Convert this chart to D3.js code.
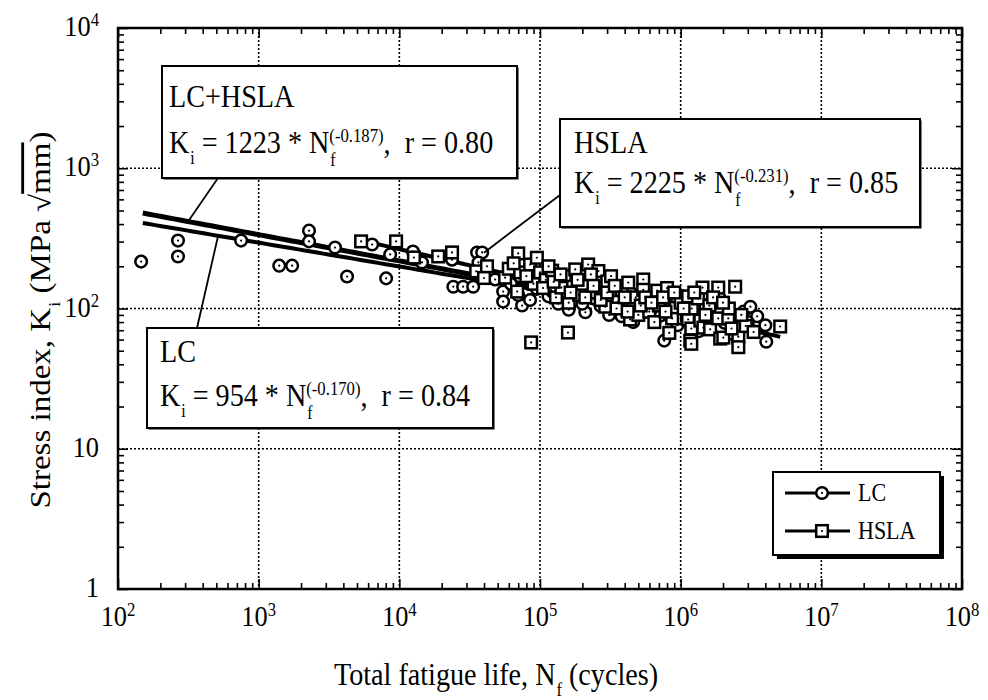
<!DOCTYPE html>
<html>
<head>
<meta charset="utf-8">
<script src="https://cdn.jsdelivr.net/npm/d3@7"></script>
<style>
  body { margin: 0; background: #fff; }
  svg text { fill: #000; white-space: pre; }
</style>
</head>
<body>
<div id="chart"></div>
<script>
// LC steel, [cycles, stress index]
var lcData = [
  [146,216],[267,305],[267,235],[750,305],[1400,202],[1730,202],[2280,359],[2280,301],
  [3490,272],[4250,169],[6410,286],[8060,164],[8610,243],[12500,255],[14500,213],[23700,223],
  [24200,143],[28400,143],[33500,143],[35700,251],[38800,251],[36500,213],[48000,161],[54700,132],
  [54700,112],[74600,105],[62000,150],[95000,138],[115000,122],[135000,108],[160000,98],[185000,128],
  [210000,94],[240000,118],[270000,104],[310000,90],[360000,114],[410000,99],[460000,80],[520000,124],
  [620000,108],[720000,89],[764000,59],[830000,100],[950000,76],[1150000,95],[1350000,69],[1650000,86],
  [1880000,120],[2050000,79],[2500000,74],[2800000,95],[3130000,103],[3500000,88],[4000000,76],[4060000,58],
  [70000,125],[85000,115],[100000,150],[120000,135],[140000,125],[170000,112],[200000,108],[260000,130],
  [300000,112],[380000,88],[440000,130],[560000,95],[680000,120],[900000,110],[1000000,85],[1250000,82],
  [1500000,105],[2200000,95],[2300000,66],[3000000,80]
];
// HSLA steel
var hslaData = [
  [5350,301],[9480,301],[12700,231],[18900,235],[23700,251],[35200,184],[42000,200],[40000,165],
  [56500,166],[60000,192],[68800,132],[70000,247],[72300,181],[85100,206],[86500,57.3],[90000,150],
  [100000,181],[110000,160],[122000,186],[130000,120],[142000,141],[150000,170],[158000,67.4],[160000,110],
  [172000,143],[178000,190],[190000,125],[200000,150],[220000,206],[250000,130],[251000,161],[260000,185],
  [280000,140],[291000,103],[301000,156],[320000,170],[330000,125],[360000,112],[380000,135],[424000,153],
  [437000,83.5],[460000,110],[480000,120],[500000,90],[542000,161],[542000,136],[598000,95],[650000,80],
  [682000,134],[700000,105],[800000,140],[843000,91],[870000,85],[920000,102],[946000,122],[1000000,110],
  [1110000,89],[1130000,122],[1130000,83.5],[1170000,59],[1190000,72],[1200000,100],[1330000,118],[1380000,82],
  [1430000,141],[1450000,73],[1600000,105],[1620000,71],[1850000,141],[1850000,85],[1910000,61],[2010000,62],
  [2180000,85],[2200000,100],[2440000,143],[2570000,63],[2570000,53],[2900000,75],[3300000,68],[5100000,74.4],
  [65000,210],[80000,170],[95000,230],[105000,140],[115000,200],[125000,155],[140000,175],[165000,130],
  [185000,160],[210000,120],[230000,175],[240000,145],[270000,115],[300000,130],[340000,145],[350000,100],
  [400000,120],[420000,95],[520000,105],[560000,120],[620000,110],[750000,120],[780000,95],[900000,130],
  [1050000,100],[1250000,130],[1500000,90],[1700000,120],[2000000,110],[2300000,72],[2700000,90],[830000,67],
  [1190000,56]
];
// power law fits K = a * N^b, drawn between nMin and nMax
var fits = [
  { name: "LC+HSLA", a: 1223, b: -0.187, r: "0.80", nMin: 150, nMax: 4000000, width: 5 },
  { name: "LC",      a: 954,  b: -0.170, r: "0.84", nMin: 150, nMax: 4000000, width: 4 },
  { name: "HSLA",    a: 2225, b: -0.231, r: "0.85", nMin: 5350, nMax: 5100000, width: 4 }
];
var xTickExp = [2, 3, 4, 5, 6, 7, 8];
var yTickLabels = ["1", "10", "10^2", "10^3", "10^4"];

var W = 988, H = 700;
var SX = 0.88;   // the scan is horizontally squeezed
var FONT = "'Liberation Serif', Tinos, 'Times New Roman', Times, 'Nimbus Roman', 'DejaVu Serif', 'Noto Serif', serif";

var svg = d3.select("#chart").append("svg").attr("width", W).attr("height", H);

var x = d3.scaleLog().domain([1e2, 1e8]).range([118, 962]);
var y = d3.scaleLog().domain([1, 1e4]).range([589, 28]);

function txt(px, py, anchor, size) {
  return svg.append("g")
    .attr("transform", "translate(" + px + "," + py + ") scale(" + SX + ",1)")
    .append("text")
    .attr("font-family", FONT)
    .attr("text-anchor", anchor)
    .style("font-size", size + "px");
}

// minor / major tick values
var majorX = xTickExp.map(function(e) { return Math.pow(10, e); });
var minorX = [], minorY = [];
for (var e = 2; e < 8; e++) for (var m = 2; m < 10; m++) minorX.push(m * Math.pow(10, e));
for (var e = 0; e < 4; e++) for (var m = 2; m < 10; m++) minorY.push(m * Math.pow(10, e));
var majorY = [1, 10, 100, 1000, 10000];

// dotted grid
var grid = svg.append("g").attr("stroke", "#000").attr("stroke-width", 1.6).attr("stroke-dasharray", "2,2");
grid.selectAll(".gx").data([1e3, 1e4, 1e5, 1e6, 1e7]).enter().append("line")
  .attr("x1", function(d) { return x(d); }).attr("x2", function(d) { return x(d); })
  .attr("y1", y(1e4)).attr("y2", y(1));
grid.selectAll(".gy").data([10, 100, 1000]).enter().append("line")
  .attr("y1", function(d) { return y(d); }).attr("y2", function(d) { return y(d); })
  .attr("x1", x(1e2)).attr("x2", x(1e8));

// fit lines
fits.forEach(function(f) {
  var pts = d3.range(0, 101).map(function(i) {
    var n = Math.exp(Math.log(f.nMin) + (Math.log(f.nMax) - Math.log(f.nMin)) * i / 100);
    return [n, f.a * Math.pow(n, f.b)];
  });
  svg.append("path").datum(pts)
    .attr("d", d3.line().x(function(d) { return x(d[0]); }).y(function(d) { return y(d[1]); }))
    .attr("fill", "none").attr("stroke", "#000").attr("stroke-width", f.width);
});

function fitAt(name, n) {
  var f = fits.filter(function(d) { return d.name === name; })[0];
  return [n, f.a * Math.pow(n, f.b)];
}

// markers
function circleMark(g) {
  g.append("circle").attr("r", 5.8).attr("fill", "#fff").attr("stroke", "#000").attr("stroke-width", 2.5);
  g.append("circle").attr("r", 1.1).attr("fill", "#000");
}
function squareMark(g) {
  g.append("rect").attr("x", -5.8).attr("y", -5.8).attr("width", 11.6).attr("height", 11.6)
    .attr("fill", "#fff").attr("stroke", "#000").attr("stroke-width", 2.5);
  g.append("circle").attr("r", 1.1).attr("fill", "#000");
}

svg.append("g").selectAll("g").data(lcData).enter().append("g")
  .attr("transform", function(d) { return "translate(" + x(d[0]) + "," + y(d[1]) + ")"; })
  .each(function() { circleMark(d3.select(this)); });
svg.append("g").selectAll("g").data(hslaData).enter().append("g")
  .attr("transform", function(d) { return "translate(" + x(d[0]) + "," + y(d[1]) + ")"; })
  .each(function() { squareMark(d3.select(this)); });

// leader lines
var leaders = [
  { from: [218, 178], to: fitAt("LC+HSLA", 315) },
  { from: [197, 328], to: fitAt("LC", 515) },
  { from: [560, 195], to: [40000, 250] }
];
svg.append("g").selectAll("line").data(leaders).enter().append("line")
  .attr("x1", function(d) { return d.from[0]; }).attr("y1", function(d) { return d.from[1]; })
  .attr("x2", function(d) { return x(d.to[0]); }).attr("y2", function(d) { return y(d.to[1]); })
  .attr("stroke", "#000").attr("stroke-width", 1.8);

// annotation boxes
function box(bx, by, bw, bh, shadow) {
  if (shadow) svg.append("rect").attr("x", bx + shadow).attr("y", by + shadow)
    .attr("width", bw).attr("height", bh).attr("fill", "#000");
  svg.append("rect").attr("x", bx).attr("y", by).attr("width", bw).attr("height", bh)
    .attr("fill", "#fff").attr("stroke", "#000").attr("stroke-width", 2);
}
function formula(px, py, f) {
  var t = txt(px, py, "start", 32);
  t.append("tspan").text("K");
  t.append("tspan").attr("dx", 1).attr("dy", 11).style("font-size", "18px").text("i");
  t.append("tspan").attr("dy", -11).text(" = " + f.a + " * N");
  t.append("tspan").attr("dx", 1).attr("dy", 13).style("font-size", "18px").text("f");
  t.append("tspan").attr("dx", -7).attr("dy", -24).style("font-size", "19px").text("(" + f.b.toFixed(3) + ")");
  t.append("tspan").attr("dy", 11).text(",  r = " + f.r);
}

box(162, 66, 355, 112, 1.5);
txt(169, 107, "start", 32).text("LC+HSLA");
formula(169, 153, fits[0]);

box(560, 119, 360, 108, 1.5);
txt(574, 153, "start", 32).text("HSLA");
formula(574, 193, fits[2]);

box(147, 328, 346, 100, 1.5);
txt(160, 362, "start", 32).text("LC");
formula(160, 406, fits[1]);

// legend
box(773, 472, 167, 83, 4);
var legendRows = [
  { label: "LC", y: 493, mark: circleMark },
  { label: "HSLA", y: 531, mark: squareMark }
];
legendRows.forEach(function(r) {
  svg.append("line").attr("x1", 785).attr("x2", 850).attr("y1", r.y).attr("y2", r.y)
    .attr("stroke", "#000").attr("stroke-width", 3);
  r.mark(svg.append("g").attr("transform", "translate(822," + r.y + ")"));
  txt(858, r.y + 8, "start", 25).text(r.label);
});

// frame and ticks on all sides
var ax = svg.append("g");
function tickAxis(axisFn, scale, vals, size, tx, ty) {
  ax.append("g").attr("transform", "translate(" + tx + "," + ty + ")")
    .call(axisFn(scale).tickValues(vals).tickSize(size).tickFormat(""))
    .call(function(g) { g.select(".domain").remove(); g.selectAll("line").attr("stroke-width", 1.6); });
}
tickAxis(d3.axisBottom, x, majorX, -10, 0, y(1));
tickAxis(d3.axisBottom, x, minorX, -6, 0, y(1));
tickAxis(d3.axisTop, x, majorX, -10, 0, y(1e4));
tickAxis(d3.axisTop, x, minorX, -6, 0, y(1e4));
tickAxis(d3.axisLeft, y, majorY, -10, x(1e2), 0);
tickAxis(d3.axisLeft, y, minorY, -6, x(1e2), 0);
tickAxis(d3.axisRight, y, majorY, -10, x(1e8), 0);
tickAxis(d3.axisRight, y, minorY, -6, x(1e8), 0);
ax.append("rect").attr("x", x(1e2)).attr("y", y(1e4))
  .attr("width", x(1e8) - x(1e2)).attr("height", y(1) - y(1e4))
  .attr("fill", "none").attr("stroke", "#000").attr("stroke-width", 2.5);

// tick labels
xTickExp.forEach(function(e) {
  var t = txt(x(Math.pow(10, e)), y(1) + 37, "middle", 30);
  t.append("tspan").text("10");
  t.append("tspan").attr("dy", -10).style("font-size", "19px").text(e);
});
yTickLabels.forEach(function(lab, i) {
  var parts = lab.split("^");
  var t = txt(99, y(Math.pow(10, i)) + 8, "end", 30);
  t.append("tspan").text(parts[0]);
  if (parts[1]) t.append("tspan").attr("dy", -10).style("font-size", "19px").text(parts[1]);
});

// axis titles
var xt = txt(496, 685, "middle", 32);
xt.append("tspan").text("Total fatigue life, N");
xt.append("tspan").attr("dx", 1).attr("dy", 11).style("font-size", "19px").text("f");
xt.append("tspan").attr("dy", -11).text(" (cycles)");

var yt = svg.append("g").attr("transform", "translate(50,320) rotate(-90) scale(1,0.87)")
  .append("text").attr("font-family", FONT).attr("text-anchor", "middle").style("font-size", "33px");
yt.append("tspan").text("Stress index, K");
yt.append("tspan").attr("dx", 1).attr("dy", 11).style("font-size", "19px").text("i");
yt.append("tspan").attr("dy", -11).text(" (MPa √");
yt.append("tspan").style("text-decoration", "overline").text("mm");
yt.append("tspan").text(")");
</script>
</body>
</html>
